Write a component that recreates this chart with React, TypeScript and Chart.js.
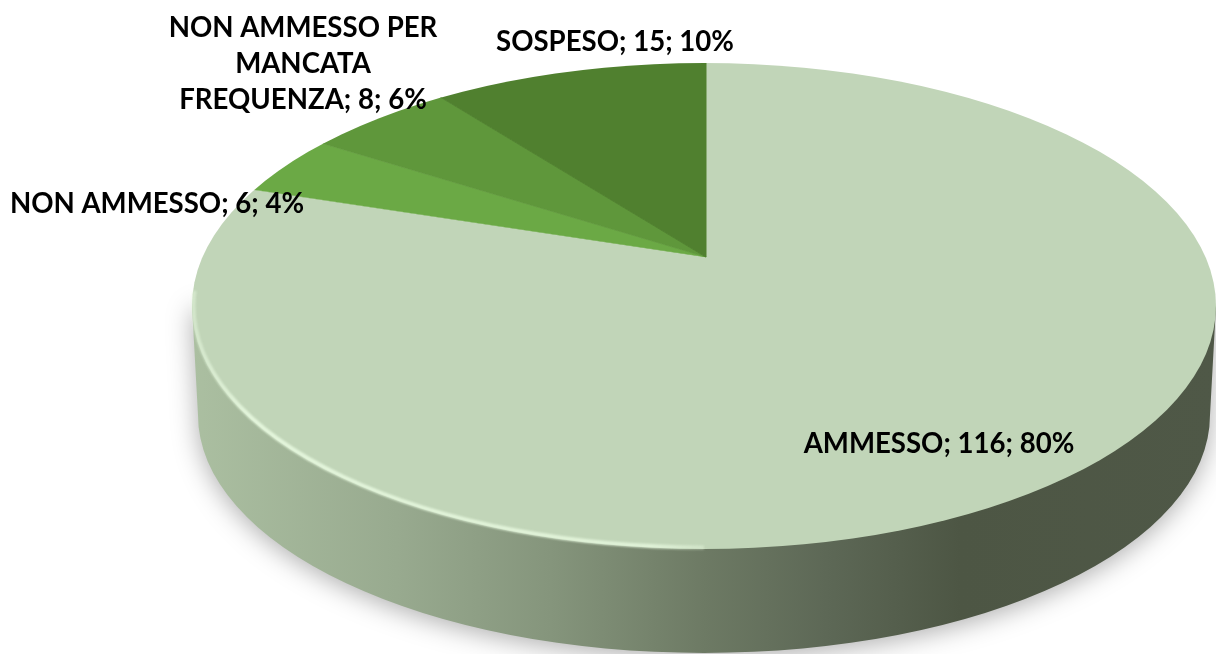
import React, { useEffect, useRef } from "react";
import { Chart, registerables } from "chart.js";

Chart.register(...registerables);

const categories = ["AMMESSO", "NON AMMESSO", "NON AMMESSO PER MANCATA FREQUENZA", "SOSPESO"];
const values = [116, 6, 8, 15];
const colors = ["#c1d5b8", "#6ba945", "#5f973b", "#50802f"];
const labelLines = [["AMMESSO; 116; 80%"], ["NON AMMESSO; 6; 4%"], ["NON AMMESSO PER", "MANCATA", "FREQUENZA; 8; 6%"], ["SOSPESO; 15; 10%"]];
const labelCenters = [[939, 444], [157, 204], [303, 28], [615, 42]];
const labelLineHeight = 36;
const labelFont = "700 27.6px Lato";

// Projection of the pie disc on the page
const apex = { x: 706, y: 257 };
const sliceScale = { x: 820, y: 375 };
const top = { x: 704, y: 306, rx: 512, ry: 243 };
const bottom = { x: 704, y: 415, rx: 506, ry: 238 };

const disc3d = {
  id: "disc3d",
  beforeDatasetsDraw(chart: any) {
    const ctx = chart.ctx;
    const arcs = chart.getDatasetMeta(0).data;
    const first = arcs[0];
    const R = first.outerRadius;

    // side wall
    const wall = ctx.createLinearGradient(top.x - top.rx, 0, top.x + top.rx, 0);
    wall.addColorStop(0, "#abbfa1");
    wall.addColorStop(0.2, "#98aa8f");
    wall.addColorStop(0.35, "#85957c");
    wall.addColorStop(0.5, "#6d7a64");
    wall.addColorStop(0.62, "#5d6856");
    wall.addColorStop(0.75, "#4d5644");
    wall.addColorStop(1, "#4f5847");
    ctx.save();
    ctx.shadowColor = "rgba(0,0,0,0.32)";
    ctx.shadowBlur = 26;
    ctx.shadowOffsetY = 4;
    ctx.fillStyle = wall;
    ctx.beginPath();
    ctx.moveTo(top.x - top.rx, top.y);
    ctx.lineTo(bottom.x - bottom.rx, bottom.y);
    ctx.ellipse(bottom.x, bottom.y, bottom.rx, bottom.ry, 0, Math.PI, 0, true);
    ctx.lineTo(top.x + top.rx, top.y);
    ctx.closePath();
    ctx.fill();
    ctx.restore();

    // top face: the library's arcs, projected and clipped to the disc outline
    ctx.save();
    ctx.beginPath();
    ctx.ellipse(top.x, top.y, top.rx, top.ry, 0, 0, Math.PI * 2);
    ctx.clip();
    ctx.translate(apex.x, apex.y);
    ctx.scale(sliceScale.x / R, sliceScale.y / R);
    ctx.translate(-first.x, -first.y);
    arcs.forEach((a: any) => a.draw(ctx));
    ctx.restore();

    // rim highlight
    const rim = ctx.createLinearGradient(top.x - top.rx, 0, top.x + 60, 0);
    rim.addColorStop(0, "rgba(230,248,222,0.5)");
    rim.addColorStop(0.1, "rgba(230,248,222,0.95)");
    rim.addColorStop(0.8, "rgba(230,248,222,0.85)");
    rim.addColorStop(1, "rgba(230,248,222,0)");
    ctx.save();
    ctx.filter = "blur(1.2px)";
    ctx.strokeStyle = rim;
    ctx.lineWidth = 4;
    ctx.beginPath();
    ctx.ellipse(top.x, top.y, top.rx - 1.5, top.ry - 1.5, 0, Math.PI * 0.5, Math.PI * 1.02);
    ctx.stroke();
    ctx.restore();
    return false;
  },
  afterDraw(chart: any) {
    const ctx = chart.ctx;
    ctx.save();
    ctx.font = labelFont;
    ctx.fillStyle = "#000000";
    ctx.textAlign = "center";
    ctx.textBaseline = "middle";
    labelLines.forEach((lines, i) => {
      lines.forEach((line, j) => {
        ctx.fillText(line, labelCenters[i][0], labelCenters[i][1] + j * labelLineHeight);
      });
    });
    ctx.restore();
  },
};

export default function App() {
  const ref = useRef<HTMLCanvasElement>(null);
  useEffect(() => {
    const chart = new Chart(ref.current as HTMLCanvasElement, {
      type: "pie",
      data: {
        labels: categories,
        datasets: [{ data: values, backgroundColor: colors, borderColor: colors, borderWidth: 0.4 }],
      },
      options: {
        responsive: false,
        animation: false,
        plugins: { legend: { display: false }, tooltip: { enabled: false } },
      },
      plugins: [disc3d],
    } as any);
    return () => chart.destroy();
  }, []);
  return (
    <div style={{ position: "fixed", left: 0, top: 0, width: 1216, height: 654, background: "#fff", overflow: "hidden" }}>
      <canvas ref={ref} width={1216} height={654} style={{ display: "block", filter: "blur(0.5px)" }} />
    </div>
  );
}
